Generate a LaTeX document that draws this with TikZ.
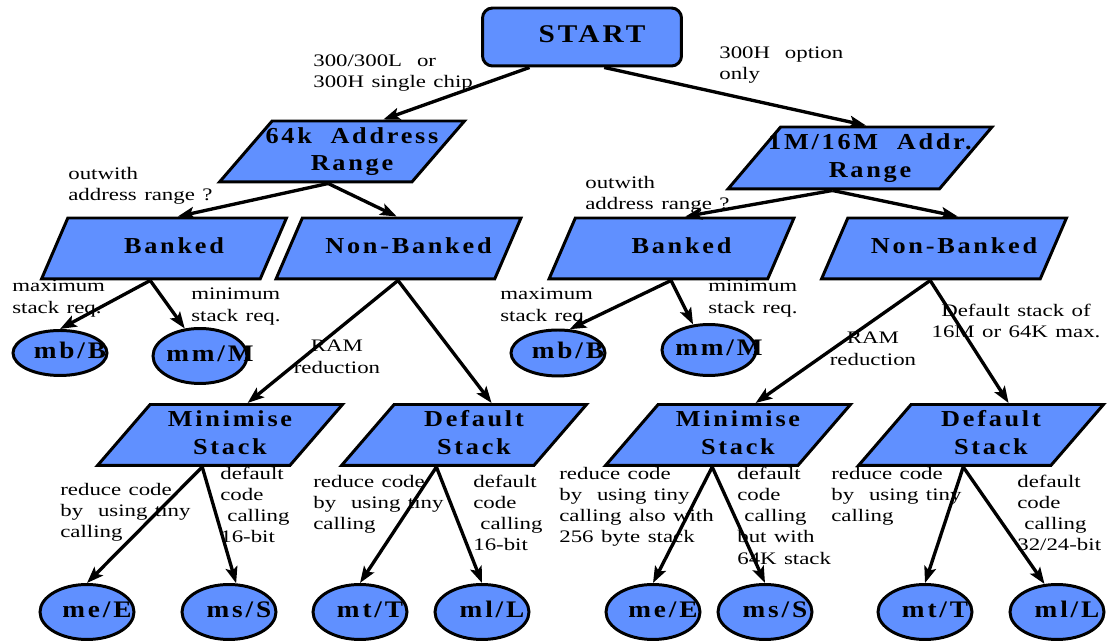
\documentclass[tikz,border=0pt]{standalone}
\usepackage{fontspec}
\setmainfont{Liberation Serif}[FakeStretch=1.3, WordSpace=1.3]
\newfontfamily\shapefont{Liberation Serif}[FakeStretch=1.15, LetterSpace=12]
\usepackage{tikz}
\usetikzlibrary{shapes.geometric, arrows.meta, calc}
\definecolor{nodeblue}{HTML}{6090FF}
\newcommand{\shapetext}[1]{\makebox[0pt]{\hspace{0.4cm}\begin{tabular}{@{}c@{}}#1\end{tabular}}}

\begin{document}
\begin{tikzpicture}[
    x=0.02cm, y=-0.02cm,
    startbox/.style={rectangle, rounded corners=0.2cm, draw, line width=1.7pt, fill=nodeblue, minimum width=3.98cm, minimum height=1.16cm, inner sep=0pt, font=\shapefont\bfseries\fontsize{14.5}{17}\selectfont},
    choice/.style={trapezium, trapezium left angle=46, trapezium right angle=134, trapezium stretches body, draw, line width=1.7pt, fill=nodeblue, minimum width=4.9cm, minimum height=1.22cm, inner sep=0pt, font=\shapefont\bfseries\fontsize{13}{15.5}\selectfont},
    model/.style={ellipse, draw, line width=1.7pt, fill=nodeblue, minimum width=1.88cm, minimum height=1.1cm, inner sep=0pt, font=\shapefont\bfseries\fontsize{13.5}{15.5}\selectfont},
    note/.style={font=\fontsize{10}{12}\selectfont, align=left, anchor=north west, inner sep=0pt},
    arrow/.style={-{Stealth[length=3.3mm, width=2.4mm, inset=0.7mm]}, line width=1.9pt}
]
\useasboundingbox (0,0) rectangle (1107,641);

% Start and address ranges
\node[startbox] (start) at (582,37) {\shapetext{START}};
\node[choice] (addrlo) at (342,151.5) {\shapetext{64k\ \ Address\\Range}};
\node[choice, minimum width=5.28cm, minimum height=1.24cm] (addrhi) at (860,158) {\shapetext{1M/16M\ \ Addr.\\Range}};

% Banked / non-banked
\node[choice] (bankl) at (164,248.5) {\shapetext{Banked}};
\node[choice] (nonbankl) at (398.5,248.5) {\shapetext{Non-Banked}};
\node[choice] (bankr) at (671.5,248.5) {\shapetext{Banked}};
\node[choice] (nonbankr) at (944,248.5) {\shapetext{Non-Banked}};

% Stack choices
\node[choice] (minl) at (220,435) {\shapetext{Minimise\\Stack}};
\node[choice] (defl) at (464,435) {\shapetext{Default\\Stack}};
\node[choice] (minr) at (728,435) {\shapetext{Minimise\\Stack}};
\node[choice] (defr) at (981,435) {\shapetext{Default\\Stack}};

% Memory models
\node[model, minimum height=0.9cm] (mbl) at (60,353) {\shapetext{mb/B}};
\node[model] (mml) at (200,356) {\shapetext{mm/M}};
\node[model, minimum height=0.92cm] (mbr) at (558,353) {\shapetext{mb/B}};
\node[model, minimum height=1.02cm] (mmr) at (709,350) {\shapetext{mm/M}};
\node[model] (mel) at (87,612) {\shapetext{me/E}};
\node[model] (msl) at (229,612) {\shapetext{ms/S}};
\node[model] (mtl) at (360,612) {\shapetext{mt/T}};
\node[model] (mll) at (482,612) {\shapetext{ml/L}};
\node[model] (mer) at (653,612) {\shapetext{me/E}};
\node[model] (msr) at (765,612) {\shapetext{ms/S}};
\node[model] (mtr) at (925,612) {\shapetext{mt/T}};
\node[model] (mlr) at (1057,612) {\shapetext{ml/L}};

% Arrow start points
\coordinate (startlo) at ($(start.south west)!0.24!(start.south east)$);
\coordinate (starthi) at ($(start.south west)!0.61!(start.south east)$);
\coordinate (addrloout) at ($(addrlo.bottom left corner)!0.57!(addrlo.bottom right corner)$);
\coordinate (bankrout) at ($(bankr.bottom left corner)!0.56!(bankr.bottom right corner)$);
\coordinate (nonbanklout) at ($(nonbankl.bottom left corner)!0.56!(nonbankl.bottom right corner)$);
\coordinate (minlout) at ($(minl.bottom left corner)!0.55!(minl.bottom right corner)$);
\coordinate (minrout) at ($(minr.bottom left corner)!0.56!(minr.bottom right corner)$);
\coordinate (defrout) at ($(defr.bottom left corner)!0.55!(defr.bottom right corner)$);

% Arrows
\draw[arrow] (startlo) -- ($(addrlo.top left corner)!0.57!(addrlo.top right corner)$);
\draw[arrow] (starthi) -- ($(addrhi.top left corner)!0.4!(addrhi.top right corner)$);
\draw[arrow] (addrloout) -- (bankl.top side);
\draw[arrow] (addrloout) -- ($(nonbankl.top left corner)!0.43!(nonbankl.top right corner)$);
\draw[arrow] (addrhi.bottom side) -- (bankr.top side);
\draw[arrow] (addrhi.bottom side) -- (nonbankr.top side);
\draw[arrow] (bankl.bottom side) -- (mbl.north);
\draw[arrow] (bankl.bottom side) -- (mml.119);
\draw[arrow] (bankrout) -- (mbr.64);
\draw[arrow] (bankrout) -- (mmr.122);
\draw[arrow] (nonbanklout) -- (minl.top side);
\draw[arrow] (nonbanklout) -- (defl.top side);
\draw[arrow] (nonbankr.bottom side) -- (minr.top side);
\draw[arrow] (nonbankr.bottom side) -- (defr.top side);
\draw[arrow] (minlout) -- (mel.north);
\draw[arrow] (minlout) -- (msl.76);
\draw[arrow] (defl.bottom side) -- (mtl.north);
\draw[arrow] (defl.bottom side) -- (mll.north);
\draw[arrow] (minrout) -- (mer.north);
\draw[arrow] (minrout) -- (msr.north);
\draw[arrow] (defrout) -- (mtr.north);
\draw[arrow] (defrout) -- (mlr.114);

% Notes
\node[note] (notelo) at (313,54) {300/300L\ \ or\\300H single chip};
\node[note] (notehi) at (719,46) {300H\ \ option\\only};
\node[note] (outl) at (68,167) {outwith\\address range ?};
\node[note] (outr) at (585,176) {outwith\\address range ?};
\node[note] (maxl) at (12,280) {maximum\\stack req.};
\node[note] (minnotel) at (191,288) {minimum\\stack req.};
\node[note] (maxr) at (500,288) {maximum\\stack req.};
\node[note] (minnoter) at (708,280) {minimum\\stack req.};
\node[note, anchor=north, align=center] (raml) at (337,340) {RAM\\reduction};
\node[note, anchor=north, align=center] (ramr) at (873,332) {RAM\\reduction};
\node[note, anchor=north, align=center] (maxnote) at (1016,304) {Default stack of\\16M or 64K max.};
\node[note] (tinyl) at (60,483) {reduce code\\by\ \ using tiny\\calling};
\node[note] (shortl) at (220,467) {default\\code\\\hspace*{0.4em}calling\\16-bit};
\node[note] (tinyl2) at (313,475) {reduce code\\by\ \ using tiny\\calling};
\node[note] (longl) at (473,475) {default\\code\\\hspace*{0.4em}calling\\16-bit};
\node[note] (tinyr) at (559,467) {reduce code\\by\ \ using tiny\\calling also with\\256 byte stack};
\node[note] (shortr) at (737,467) {default\\code\\\hspace*{0.4em}calling\\but with\\64K stack};
\node[note] (tinyr2) at (831,467) {reduce code\\by\ \ using tiny\\calling};
\node[note] (longr) at (1017,475) {default\\code\\\hspace*{0.4em}calling\\32/24-bit};
\end{tikzpicture}
\end{document}
